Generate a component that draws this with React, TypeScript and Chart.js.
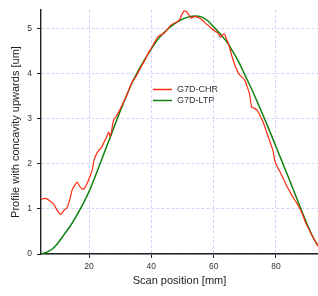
import React, { useEffect, useRef } from "react";
import { Chart, registerables } from "chart.js";

Chart.register(...registerables);

const chrX = [4.6, 5.5, 6.5, 7.5, 8.5, 9.5, 10.5, 11, 12, 13, 13.8, 14.6, 15.5, 16.2, 17, 17.8, 18.5, 19.3, 20.2, 21, 21.6, 22.3, 23, 24, 25, 25.8, 26.3, 26.8, 27.3, 27.9, 28.8, 29.8, 31, 32, 33, 34, 35, 36, 37, 38, 39, 40, 41, 42, 43, 44, 45, 46, 47, 48, 49, 49.8, 50.5, 51.2, 52, 52.8, 53.5, 54.5, 55.5, 56.5, 57.5, 58.5, 59.5, 60.5, 61.5, 62.2, 63, 63.5, 64.2, 65, 66, 67, 68, 69, 70, 70.8, 71.5, 72.2, 73, 74, 75, 76, 77, 78, 79, 79.7, 80.5, 81.3, 82.5, 83.5, 84.5, 85.5, 86.5, 87.5, 88.5, 89.5, 90.5, 91.5, 92.5, 93.5];
const chrY = [1.2, 1.23, 1.22, 1.17, 1.12, 1.0, 0.9, 0.88, 0.97, 1.03, 1.2, 1.42, 1.53, 1.59, 1.5, 1.44, 1.45, 1.55, 1.7, 1.85, 2.08, 2.2, 2.28, 2.36, 2.5, 2.62, 2.7, 2.6, 2.75, 2.97, 3.05, 3.18, 3.35, 3.5, 3.67, 3.83, 3.92, 4.05, 4.18, 4.3, 4.45, 4.56, 4.68, 4.8, 4.85, 4.88, 4.96, 5.05, 5.1, 5.13, 5.18, 5.3, 5.38, 5.37, 5.3, 5.22, 5.25, 5.25, 5.22, 5.17, 5.1, 5.05, 4.98, 4.93, 4.88, 4.8, 4.86, 4.87, 4.75, 4.6, 4.35, 4.15, 4.0, 3.92, 3.85, 3.7, 3.55, 3.25, 3.23, 3.18, 3.05, 2.9, 2.7, 2.5, 2.3, 2.05, 1.92, 1.82, 1.65, 1.5, 1.38, 1.25, 1.15, 1.03, 0.88, 0.7, 0.56, 0.42, 0.3, 0.17];

const ltpX = [4.6, 6, 8, 10, 12, 14, 16, 18, 20, 22, 24, 26, 28, 30, 32, 34, 36, 38, 40, 42, 44, 46, 48, 50, 52, 54, 56, 58, 60, 62, 64, 66, 68, 70, 72, 74, 76, 78, 80, 82, 84, 86, 88, 90, 92, 93.5];
const ltpY = [0.0, 0.03, 0.1, 0.24, 0.43, 0.62, 0.85, 1.1, 1.38, 1.72, 2.08, 2.44, 2.8, 3.16, 3.5, 3.82, 4.08, 4.32, 4.54, 4.74, 4.9, 5.02, 5.12, 5.2, 5.25, 5.27, 5.25, 5.17, 5.03, 4.88, 4.72, 4.5, 4.26, 3.97, 3.68, 3.37, 3.05, 2.72, 2.38, 2.04, 1.7, 1.35, 1.0, 0.66, 0.36, 0.18];

const seriesNames = ["G7D-CHR", "G7D-LTP"];
const seriesColors = ["#ff2a10", "#0f820f"];
const xTicks = [20, 40, 60, 80];
const yTicks = [0, 1, 2, 3, 4, 5];

const FONT = "'Liberation Sans', Arial, sans-serif";

const legendPlugin = {
  id: "innerLegend",
  afterDatasetsDraw(chart: any) {
    const ctx = chart.ctx;
    ctx.save();
    chart.data.datasets.forEach((ds: any, i: number) => {
      const y = 89.5 + i * 11;
      ctx.strokeStyle = ds.borderColor;
      ctx.lineWidth = 1.5;
      ctx.beginPath();
      ctx.moveTo(153, y);
      ctx.lineTo(172, y);
      ctx.stroke();
      ctx.fillStyle = "#333";
      ctx.font = "9px " + FONT;
      ctx.textBaseline = "middle";
      ctx.textAlign = "left";
      ctx.fillText(ds.label, 177, y);
    });
    ctx.restore();
  },
};

const gridOpts: any = {
  color: "#d4d4fb",
  tickColor: "#222",
  tickLength: 4,
  tickBorderDash: [],
  tickWidth: 1,
};

export default function App() {
  const ref = useRef<HTMLCanvasElement>(null);
  useEffect(() => {
    const chart = new Chart(ref.current!, {
      type: "line",
      data: {
        datasets: [
          {
            label: seriesNames[0],
            data: chrX.map((x, i) => ({ x, y: chrY[i] })),
            borderColor: seriesColors[0],
            borderWidth: 1.2,
            pointRadius: 0,
            tension: 0.2,
            fill: false,
          },
          {
            label: seriesNames[1],
            data: ltpX.map((x, i) => ({ x, y: ltpY[i] })),
            borderColor: seriesColors[1],
            borderWidth: 1.5,
            pointRadius: 0,
            cubicInterpolationMode: "monotone",
            fill: false,
          },
        ],
      },
      options: {
        animation: false,
        responsive: false,
        maintainAspectRatio: false,
        layout: { padding: { top: 6, left: 0, right: 0, bottom: 0 } },
        plugins: { legend: { display: false }, tooltip: { enabled: false } },
        scales: {
          x: {
            type: "linear",
            min: 4.59,
            max: 93.5,
            afterBuildTicks: (s: any) => {
              s.ticks = xTicks.map((v) => ({ value: v }));
            },
            afterFit: (s: any) => {
              s.height = 42;
            },
            grid: gridOpts,
            border: { display: true, color: "#222", width: 1.4, dash: [3, 2] },
            ticks: { color: "#333", font: { size: 8.5, family: FONT }, padding: 4, maxRotation: 0 },
            title: {
              display: true,
              text: "Scan position [mm]",
              color: "#222",
              font: { size: 11, family: FONT },
              padding: { top: 0, bottom: 8 },
            },
          },
          y: {
            type: "linear",
            min: 0,
            max: 5.4,
            afterBuildTicks: (s: any) => {
              s.ticks = yTicks.map((v) => ({ value: v }));
            },
            afterFit: (s: any) => {
              s.width = 41;
            },
            grid: gridOpts,
            border: { display: true, color: "#222", width: 1.4, dash: [3, 2] },
            ticks: { color: "#333", font: { size: 8.5, family: FONT }, padding: 5 },
            title: {
              display: true,
              text: "Profile with concavity upwards [um]",
              color: "#222",
              font: { size: 11, family: FONT },
              padding: { top: 9, bottom: 0 },
            },
          },
        },
      } as any,
      plugins: [legendPlugin],
    });
    return () => chart.destroy();
  }, []);
  return (
    <div style={{ position: "fixed", left: 0, top: 0, width: 318, height: 296, background: "#fff" }}>
      <canvas ref={ref} width={318} height={296} style={{ width: 318, height: 296 }} />
    </div>
  );
}
